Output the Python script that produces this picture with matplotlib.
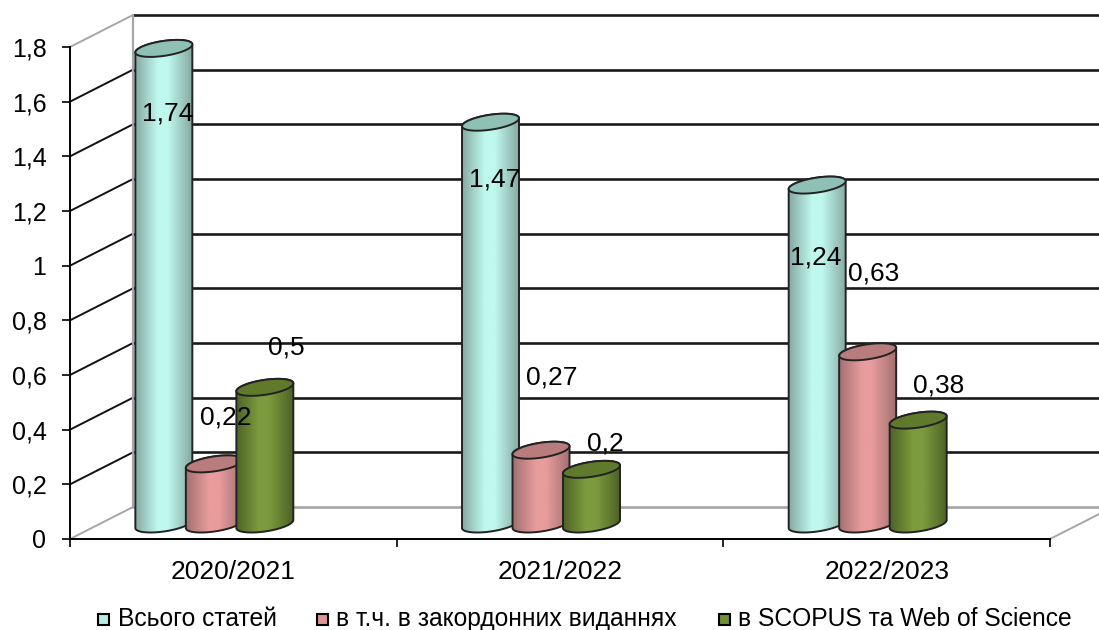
import numpy as np
import matplotlib
matplotlib.use("Agg")
import matplotlib.pyplot as plt
from matplotlib.colors import LinearSegmentedColormap
from matplotlib.patches import PathPatch, Rectangle
from matplotlib.path import Path

plt.rcParams['font.family'] = ['Liberation Sans', 'DejaVu Sans']

years = ['2020/2021', '2021/2022', '2022/2023']
series_names = ['Всього статей', 'в т.ч. в закордонних виданнях', 'в SCOPUS та Web of Science']
total = [1.74, 1.47, 1.24]
foreign = [0.22, 0.27, 0.63]
scopus = [0.5, 0.2, 0.38]
y_ticks = [0, 0.2, 0.4, 0.6, 0.8, 1, 1.2, 1.4, 1.6, 1.8]

W, H = 1099, 630
fig = plt.figure(figsize=(W / 100, H / 100), dpi=100)
ax = fig.add_axes([70 / W, 1 - 539 / H, 980 / W, 492 / H])
ax.set_xlim(0, 3)
ax.set_ylim(0, 1.8)

# size of one pixel in data units
px = 3 / 980
py = 1.8 / 492
depth_x = 63 * px
depth_y = 32 * py

# walls behind the bars
for v in y_ticks:
    diag = '#a6a6a6' if v in (0, 1.8) else '#111111'
    back = '#a6a6a6' if v == 0 else '#1a1a1a'
    ax.plot([0, depth_x], [v, v + depth_y], color=diag, lw=1.4, clip_on=False, zorder=1)
    ax.plot([depth_x, 3 + depth_x], [v + depth_y, v + depth_y], color=back, lw=1.9,
            clip_on=False, zorder=1)
ax.plot([depth_x, depth_x], [depth_y, 1.8 + depth_y], color='#a6a6a6', lw=1.6, clip_on=False, zorder=1)
ax.plot([3, 3 + depth_x], [0, depth_y], color='#a6a6a6', lw=1.4, clip_on=False, zorder=1)


def cylinder(xc, value, edge, mid, top, z):
    a = 28.5 * px
    b = 7.5 * py
    s = 4 * py
    y0 = 15 * py
    t = np.linspace(0, 2 * np.pi, 80)
    ex = xc + a * np.cos(t)
    ey = b * np.sin(t) + s * np.cos(t)
    low = t >= np.pi

    # body outline: lower half of base ellipse, then up over the top ellipse
    bx = np.r_[ex[low], ex[~low]]
    by = np.r_[ey[low] + y0, ey[~low] + y0 + value]
    verts = np.c_[bx, by]
    body = PathPatch(Path(np.r_[verts, verts[:1]], closed=True), fc='none', ec='#222222',
                     lw=1.4, zorder=z + 0.2, clip_on=False)
    cmap = LinearSegmentedColormap.from_list('c', [(0, edge), (0.4, mid), (0.58, mid), (1, edge)])
    im = ax.imshow(np.linspace(0, 1, 128)[None, :], cmap=cmap, aspect='auto', zorder=z,
                   extent=[xc - a, xc + a, y0 - b - s, y0 + value + b + s])
    ax.add_patch(body)
    im.set_clip_path(body)
    ax.fill(ex, ey + y0 + value, fc=top, ec='#222222', lw=1.4, zorder=z + 0.3, clip_on=False)


styles = [('#86aaa3', '#bff8ee', '#8fc0b6'),
          ('#a37070', '#e89c9c', '#b87c7c'),
          ('#4e6326', '#7c9b3e', '#607a2c')]
centers = [i + 0.5 - 19 * px for i in range(3)]
step = 50.5 * px
z = 3
for i, c in enumerate(centers):
    for j, vals in enumerate([total, foreign, scopus]):
        cylinder(c + (j - 1) * step, vals[i], *styles[j], z)
        z += 1
ax.set_xlim(0, 3)
ax.set_ylim(0, 1.8)

# data labels, pixel centres
label_xy = [[(168, 113), (226, 418), (286, 347)],
            [(495, 180), (552, 377), (605, 444)],
            [(816, 258), (874, 273), (939, 385)]]
for i in range(3):
    for j, vals in enumerate([total, foreign, scopus]):
        lx, ly = label_xy[i][j]
        fig.text(lx / W, 1 - ly / H, str(vals[i]).replace('.', ','), fontsize=19,
                 ha='center', va='center', zorder=50)

ax.spines['top'].set_visible(False)
ax.spines['right'].set_visible(False)
ax.spines['left'].set_linewidth(1.4)
ax.spines['bottom'].set_linewidth(1.4)
ax.set_yticks(y_ticks)
ax.set_yticklabels([f'{v:g}'.replace('.', ',') for v in y_ticks])
ax.set_xticks([0, 1, 2, 3])
ax.set_xticklabels([])
ax.set_xticks([0.5, 1.5, 2.5], minor=True)
ax.set_xticklabels(years, minor=True)
ax.tick_params(axis='y', length=6, width=1.2, pad=11, labelsize=18)
ax.tick_params(axis='x', which='major', length=6, width=1.2)
ax.tick_params(axis='x', which='minor', length=0, pad=15, labelsize=19)
ax.patch.set_alpha(0)

# legend
swatch_x = [98, 317, 719]
text_x = [118, 336, 738]
swatch_c = ['#b5efe4', '#dc9696', '#6f8f35']
for name, sx, tx, col in zip(series_names, swatch_x, text_x, swatch_c):
    fig.add_artist(Rectangle((sx / W, 1 - 625 / H), 11 / W, 11 / H, fc=col, ec='black', lw=1.5,
                             transform=fig.transFigure))
    fig.text(tx / W, 1 - 619 / H, name, fontsize=17.7, ha='left', va='center')

fig.savefig('out.png', dpi=100)
